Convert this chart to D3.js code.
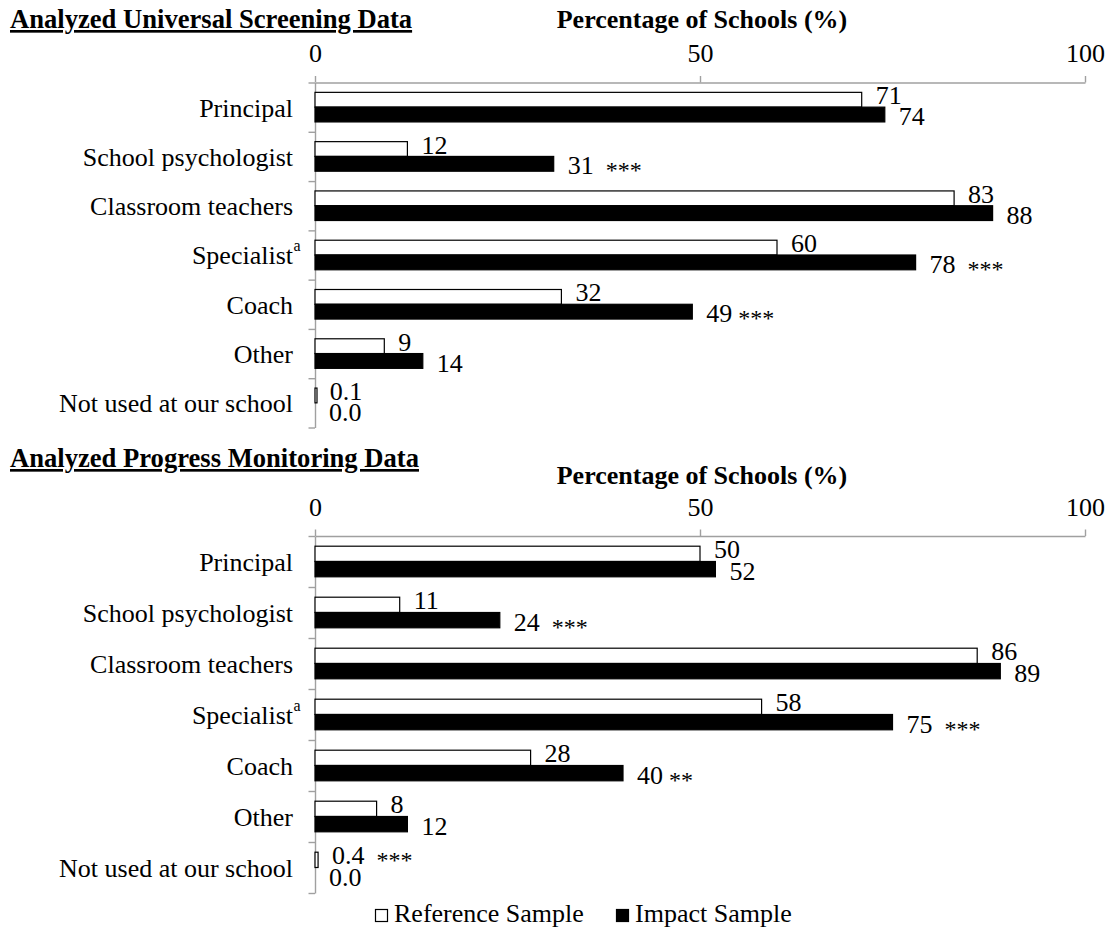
<!DOCTYPE html>
<html>
<head>
<meta charset="utf-8">
<script src="https://cdn.jsdelivr.net/npm/d3@7"></script>
<style>
  html, body { margin: 0; padding: 0; background: #fff; }
  svg { display: block; }
  svg text { font-family: "Liberation Serif", "Tinos", "Times New Roman", "DejaVu Serif", serif !important; fill: #000; }
  .pre { white-space: pre; }
</style>
</head>
<body>
<svg id="chart" width="1112" height="930"></svg>
<script>
// ---------- data ----------
const categories = ["Principal", "School psychologist", "Classroom teachers", "Specialist", "Coach", "Other", "Not used at our school"];
const categoryNotes = ["", "", "", "a", "", "", ""];
const seriesNames = ["Reference Sample", "Impact Sample"];
const xTicks = [0, 50, 100];

const screeningReference = [71, 12, 83, 60, 32, 9, 0.1];
const screeningImpact = [74, 31, 88, 78, 49, 14, 0.0];
const screeningReferenceSig = ["", "", "", "", "", "", ""];
const screeningImpactSig = ["", "  ***", "", "  ***", " ***", "", ""];

const monitoringReference = [50, 11, 86, 58, 28, 8, 0.4];
const monitoringImpact = [52, 24, 89, 75, 40, 12, 0.0];
const monitoringReferenceSig = ["", "", "", "", "", "", "  ***"];
const monitoringImpactSig = ["", "  ***", "", "  ***", " **", "", ""];

const panelTitles = ["Analyzed Universal Screening Data", "Analyzed Progress Monitoring Data"];
const axisTitle = "Percentage of Schools (%)";

// ---------- layout ----------
const FS = 26;
const FONT = "'Liberation Serif', 'Tinos', 'Times New Roman', 'DejaVu Serif', serif";
const svg = d3.select("#chart");
const x = d3.scaleLinear().domain([0, 100]).range([315, 1085]);
const AXIS_GRAY = "#a0a0a0";

const panels = [
  { title: panelTitles[0], titleY: 28, axisTitleY: 28, top: 82.5, bottom: 427.5,
    ref: screeningReference, imp: screeningImpact, refSig: screeningReferenceSig, impSig: screeningImpactSig },
  { title: panelTitles[1], titleY: 467, axisTitleY: 484, top: 536, bottom: 893,
    ref: monitoringReference, imp: monitoringImpact, refSig: monitoringReferenceSig, impSig: monitoringImpactSig }
];

const fmt = v => v < 1 ? v.toFixed(1) : d3.format("d")(v);

panels.forEach(p => {
  const g = svg.append("g").attr("font-family", FONT);

  // titles
  g.append("text").attr("x", 10).attr("y", p.titleY)
    .attr("font-size", 26.6).attr("font-weight", "bold")
    .attr("text-decoration", "underline").text(p.title);
  g.append("text").attr("x", (x.range()[0] + x.range()[1]) / 2 + 2).attr("y", p.axisTitleY)
    .attr("text-anchor", "middle").attr("font-size", FS).attr("font-weight", "bold")
    .text(axisTitle);

  // category scales
  const y0 = d3.scaleBand().domain(categories).range([p.top, p.bottom])
    .paddingInner(0.4).paddingOuter(0.2);
  const y1 = d3.scaleBand().domain(seriesNames).range([0, y0.bandwidth()]);
  const yIdx = d3.scaleLinear().domain([0, categories.length]).range([p.top, p.bottom]);

  // top axis
  const xAxis = g.append("g").attr("transform", `translate(0,${p.top})`)
    .call(d3.axisTop(x).tickValues(xTicks).tickSize(6.5).tickSizeOuter(0).tickPadding(14));
  xAxis.attr("font-family", FONT);
  xAxis.select(".domain").attr("stroke", AXIS_GRAY).attr("stroke-width", 1.4);
  xAxis.selectAll(".tick line").attr("stroke", AXIS_GRAY).attr("stroke-width", 1.4);
  xAxis.selectAll(".tick text").attr("font-size", FS).attr("fill", "#000");

  // left axis with boundary ticks
  const yAxis = g.append("g").attr("transform", `translate(${x(0)},0)`)
    .call(d3.axisLeft(yIdx).tickValues(d3.range(categories.length + 1)).tickSize(6.5).tickSizeOuter(0).tickFormat(""));
  yAxis.select(".domain").attr("stroke", AXIS_GRAY).attr("stroke-width", 1.4);
  yAxis.selectAll(".tick line").attr("stroke", AXIS_GRAY).attr("stroke-width", 1.4);

  // category labels
  categories.forEach((c, i) => {
    g.append("text")
      .attr("x", 293).attr("y", y0(c) + y0.bandwidth() / 2 + 0.36 * FS)
      .attr("text-anchor", "end").attr("font-size", FS).text(c);
    if (categoryNotes[i]) {
      g.append("text").attr("x", 293.5).attr("y", y0(c) + y0.bandwidth() / 2 - 4)
        .attr("font-size", 16).text(categoryNotes[i]);
    }
  });

  // bars
  const rows = categories.map((c, i) => ({ c, i, vals: [p.ref[i], p.imp[i]], sigs: [p.refSig[i], p.impSig[i]] }));
  rows.forEach(r => {
    seriesNames.forEach((s, k) => {
      const v = r.vals[k];
      const yb = y0(r.c) + y1(s);
      const h = y1.bandwidth();
      g.append("rect")
        .attr("x", x(0)).attr("y", yb)
        .attr("width", Math.max(x(v) - x(0), v > 0 ? 2 : 0)).attr("height", h)
        .attr("fill", k === 0 ? "#fff" : "#000")
        .attr("stroke", "#000").attr("stroke-width", v > 0 ? 1.2 : 0);
      const center = yb + h / 2 + (k === 0 ? -4 : 2);
      const t = g.append("text").attr("class", "pre")
        .attr("x", x(v) + 14).attr("y", center + 0.33 * FS)
        .attr("font-size", FS).text(fmt(v));
      if (r.sigs[k]) {
        t.append("tspan").attr("dy", 4).attr("font-size", 24).text(r.sigs[k]);
      }
    });
  });
});

// legend
const legend = svg.append("g").attr("font-family", FONT);
const legendX = d3.scalePoint().domain(seriesNames).range([375, 616]);
seriesNames.forEach((s, k) => {
  const lx = legendX(s);
  legend.append("rect").attr("x", lx + 0.5).attr("y", 909.5).attr("width", 12).attr("height", 12)
    .attr("fill", k === 0 ? "#fff" : "#000").attr("stroke", "#000").attr("stroke-width", 1.2);
  legend.append("text").attr("x", lx + 19).attr("y", 922).attr("font-size", FS).text(s);
});
</script>
</body>
</html>
